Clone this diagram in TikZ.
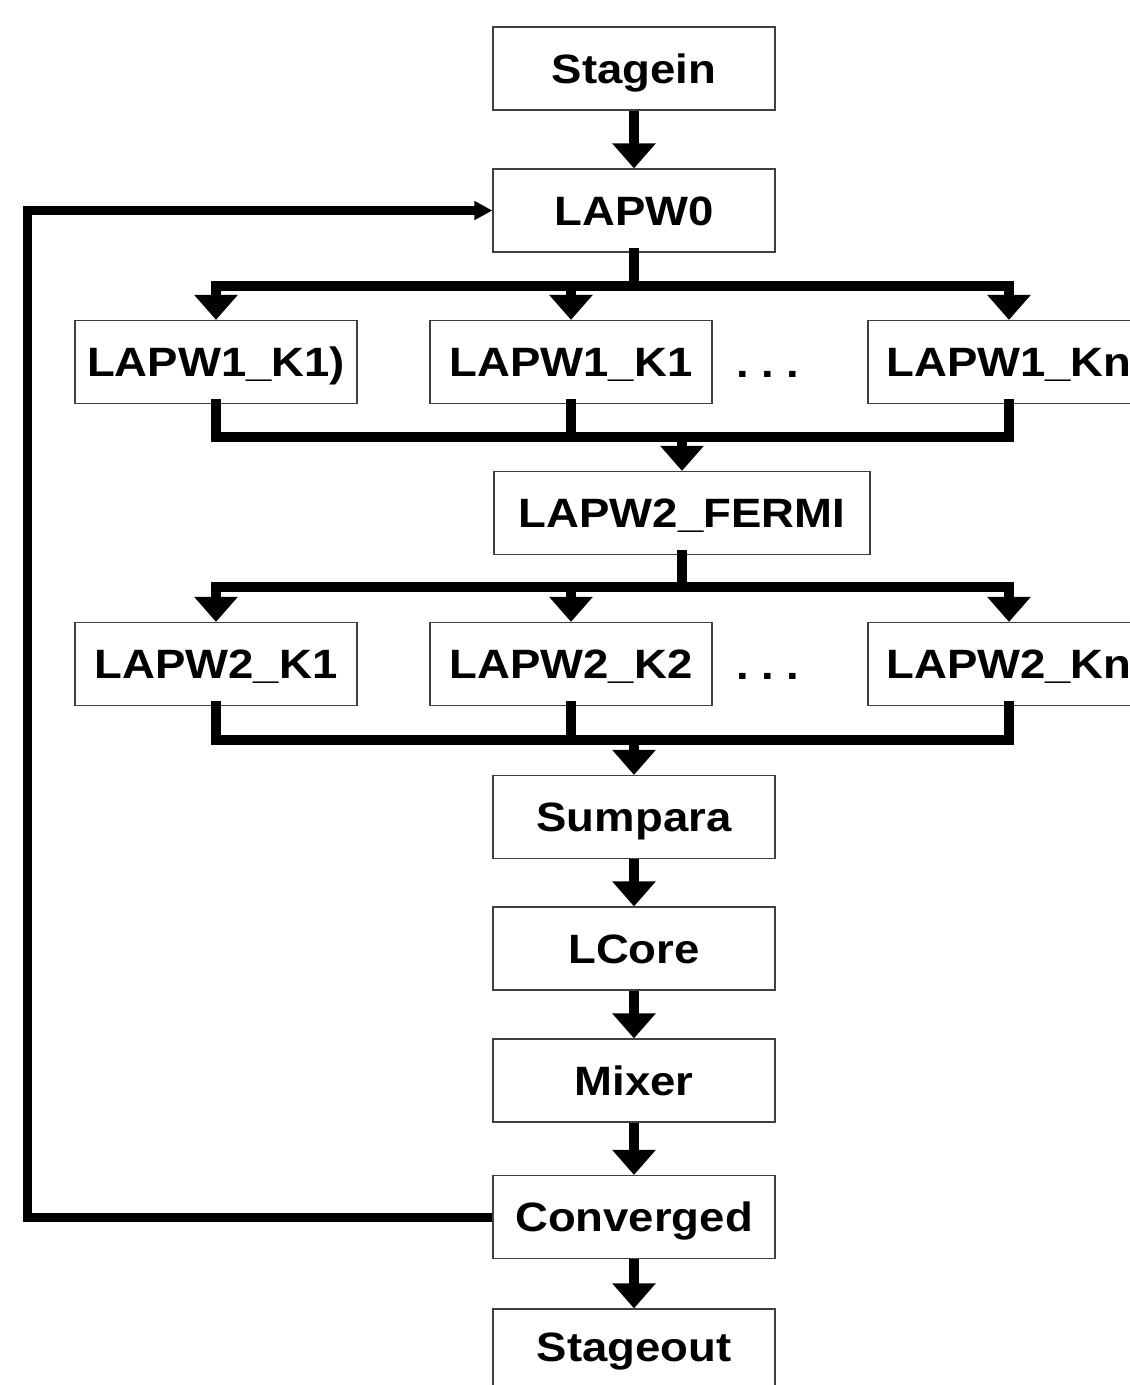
\documentclass[tikz,border=0pt]{standalone}
\usepackage{fontspec}
\setmainfont{Liberation Sans}[FakeStretch=1.11]
\usetikzlibrary{arrows.meta}
\begin{document}
\begin{tikzpicture}[x=1pt,y=-1pt,
  box/.style={draw=black!75, line width=1.2pt, minimum width=282pt, minimum height=83pt,
    inner sep=0pt, font=\fontsize{41}{41}\selectfont\bfseries, text height=29.5pt, text depth=0pt, fill=white},
  dots/.style={inner sep=0pt, font=\fontsize{41}{41}\selectfont\bfseries},
  arr/.style={line width=10.5pt, -{Triangle[width=42pt,length=25pt]}},
  bar/.style={line width=10pt, line cap=rect},
  loopline/.style={line width=9pt, line join=miter, -{Triangle[width=18pt,length=18pt]}},
]
\useasboundingbox (0,0) rectangle (1130,1385);
\fill[white] (0,0) rectangle (1130,1385);

% nodes
\node[box] (stagein) at (634,68.5) {Stagein};
\node[box] (lapw0) at (634,210.5) {LAPW0};
\node[box] (l1a) at (216,362) {LAPW1\_K1)};
\node[box] (l1b) at (571,362) {LAPW1\_K1};
\node[box] (l1c) at (1009,362) {LAPW1\_Kn};
\node[dots, anchor=base] (d1) at (768,377) {.\ .\ .};
\node[box, minimum width=376pt] (fermi) at (682,513) {LAPW2\_FERMI};
\node[box] (l2a) at (216,664) {LAPW2\_K1};
\node[box] (l2b) at (571,664) {LAPW2\_K2};
\node[box] (l2c) at (1009,664) {LAPW2\_Kn};
\node[dots, anchor=base] (d2) at (768,679) {.\ .\ .};
\node[box] (sumpara) at (634,817) {Sumpara};
\node[box] (lcore) at (634,948.5) {LCore};
\node[box] (mixer) at (634,1080.5) {Mixer};
\node[box] (conv) at (634,1217) {Converged};
\node[box, text depth=7pt] (stageout) at (634,1350.5) {Stageout};

% coordinates for buses and loop
\coordinate (fork1) at (634,286);
\coordinate (join1) at (682,437);
\coordinate (fork2) at (682,587);
\coordinate (join2) at (634,740);
\coordinate (lb) at (27,1217);
\coordinate (lt) at (27,210.5);

% Stagein -> LAPW0
\draw[arr] (stagein) -- (lapw0);

% LAPW0 fork to LAPW1
\draw[bar] (lapw0.south) -- (fork1);
\draw[bar] (l1a.north |- fork1) -- (l1c.north |- fork1);
\draw[arr] (l1a.north |- fork1) -- (l1a);
\draw[arr] (l1b.north |- fork1) -- (l1b);
\draw[arr] (l1c.north |- fork1) -- (l1c);

% LAPW1 join to FERMI
\draw[bar] (l1a.south) -- (l1a.south |- join1);
\draw[bar] (l1b.south) -- (l1b.south |- join1);
\draw[bar] (l1c.south) -- (l1c.south |- join1);
\draw[bar] (l1a.south |- join1) -- (l1c.south |- join1);
\draw[arr] (join1) -- (fermi);

% FERMI fork to LAPW2
\draw[bar] (fermi.south) -- (fork2);
\draw[bar] (l2a.north |- fork2) -- (l2c.north |- fork2);
\draw[arr] (l2a.north |- fork2) -- (l2a);
\draw[arr] (l2b.north |- fork2) -- (l2b);
\draw[arr] (l2c.north |- fork2) -- (l2c);

% LAPW2 join to Sumpara
\draw[bar] (l2a.south) -- (l2a.south |- join2);
\draw[bar] (l2b.south) -- (l2b.south |- join2);
\draw[bar] (l2c.south) -- (l2c.south |- join2);
\draw[bar] (l2a.south |- join2) -- (l2c.south |- join2);
\draw[arr] (join2) -- (sumpara);

% chain
\draw[arr] (sumpara) -- (lcore);
\draw[arr] (lcore) -- (mixer);
\draw[arr] (mixer) -- (conv);
\draw[arr] (conv) -- (stageout);

% loop back
\draw[loopline] (conv.west) -- (lb) -- (lt) -- (lapw0.west);
\end{tikzpicture}
\end{document}
